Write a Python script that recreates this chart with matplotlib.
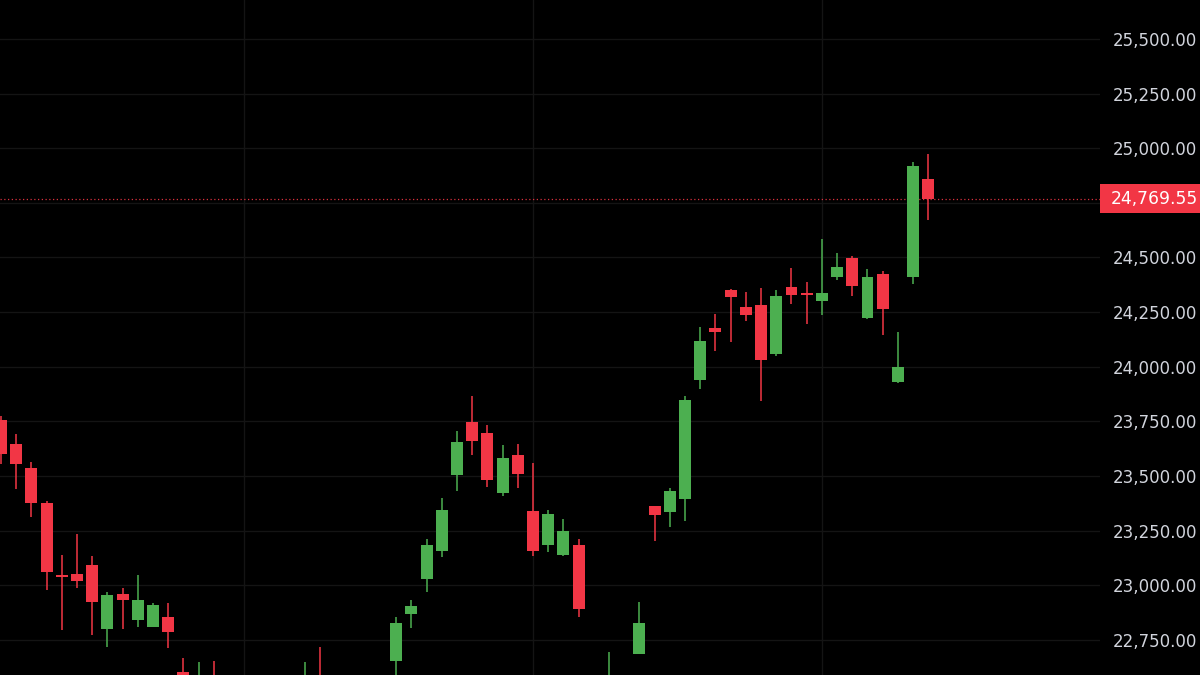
import numpy as np
import matplotlib
matplotlib.use("Agg")
import matplotlib.pyplot as plt
import matplotlib.transforms as mtransforms
from matplotlib.patches import Rectangle

# =============================================================================
# 数据 (candles 13-25, 39-41 sit below the visible range)
# =============================================================================
opens = [23756, 23645, 23538, 23378, 23047, 23051, 23091, 22800, 22961, 22841,
         22810, 22854, 22604, 22480, 22560, 22450, 22420, 22340, 22390, 22450,
         22500, 22560, 22470, 22420, 22480, 22530, 22656, 22867, 23027, 23157,
         23506, 23746, 23695, 23423, 23596, 23340, 23183, 23141, 23187, 22540,
         22480, 22470, 22688, 23362, 23335, 23395, 23938, 24179, 24350, 24273,
         24284, 24057, 24365, 24336, 24301, 24411, 24496, 24224, 24426, 23929,
         24411, 24858]
highs = [23775, 23691, 23564, 23385, 23141, 23233, 23134, 22969, 22986, 23047,
         22920, 22920, 22668, 22649, 22653, 22540, 22500, 22420, 22480, 22560,
         22649, 22717, 22550, 22520, 22570, 22580, 22854, 22935, 23213, 23398,
         23706, 23866, 23732, 23640, 23648, 23561, 23344, 23304, 23210, 22575,
         22696, 22580, 22923, 23363, 23446, 23866, 24182, 24240, 24354, 24342,
         24359, 24350, 24450, 24389, 24583, 24522, 24507, 24446, 24438, 24159,
         24938, 24972]
lows = [23553, 23439, 23314, 22981, 22794, 22989, 22771, 22719, 22801, 22810,
        22809, 22714, 22470, 22430, 22400, 22380, 22300, 22250, 22320, 22400,
        22460, 22440, 22380, 22350, 22420, 22460, 22592, 22806, 22970, 23129,
        23431, 23596, 23449, 23411, 23444, 23134, 23152, 23135, 22856, 22400,
        22440, 22430, 22685, 23202, 23268, 23294, 23897, 24072, 24115, 24209,
        23843, 24049, 24286, 24194, 24235, 24396, 24324, 24217, 24144, 23925,
        24377, 24670]
closes = [23599, 23553, 23375, 23062, 23038, 23022, 22922, 22955, 22935, 22931,
          22911, 22786, 22520, 22570, 22450, 22420, 22340, 22390, 22450, 22500,
          22560, 22470, 22420, 22480, 22530, 22480, 22830, 22906, 23187, 23347,
          23655, 23660, 23480, 23584, 23510, 23157, 23327, 23247, 22894, 22450,
          22575, 22560, 22826, 23320, 23434, 23846, 24118, 24159, 24320, 24235,
          24029, 24324, 24328, 24328, 24339, 24456, 24370, 24411, 24266, 24000,
          24919, 24769.55]

last_price = 24769.55
price_ticks = [22750, 23000, 23250, 23500, 23750, 24000, 24250, 24500, 24750,
               25000, 25250, 25500]
labelled_ticks = [t for t in price_ticks if t != 24750]
vgrid_idx = [16, 35, 54]

UP = '#4caf50'
DOWN = '#f23645'
GRID = '#141414'
TXT = '#d1d4dc'

# =============================================================================
# 绘图
# =============================================================================
fig = plt.figure(figsize=(12, 6.75), dpi=100, facecolor='black')
ax = fig.add_axes([0, 0, 1100 / 1200, 1])
ax.set_facecolor('black')

o = np.array(opens, dtype=float)
h = np.array(highs, dtype=float)
l = np.array(lows, dtype=float)
c = np.array(closes, dtype=float)
x = np.arange(len(o))
colors = np.where(c >= o, UP, DOWN)

ax.vlines(x, l, h, colors=colors, linewidth=1.1, zorder=3)
body_low = np.minimum(o, c)
body_h = np.maximum(np.abs(c - o), 6)
ax.bar(x, body_h, bottom=body_low, width=0.78, color=colors, linewidth=0, zorder=4)

ax.set_xlim(-0.066, 72.3)
ax.set_ylim(22590, 25678)

# grid
for t in price_ticks:
    ax.axhline(t, color=GRID, lw=1, zorder=1)
for i in vgrid_idx:
    ax.axvline(i, color=GRID, lw=1, zorder=1)

# current price line
ax.axhline(last_price, color=DOWN, lw=0.9, ls=(0, (1, 2)), zorder=2, alpha=0.9)

for s in ax.spines.values():
    s.set_visible(False)
ax.set_xticks([])
ax.yaxis.tick_right()
ax.set_yticks(labelled_ticks)
ax.set_yticklabels([f'{t:,.2f}' for t in labelled_ticks])
ax.tick_params(axis='y', length=0, pad=9, labelsize=12, labelcolor=TXT)

# price label box on the axis
trans = mtransforms.blended_transform_factory(fig.transFigure, ax.transData)
box_h = 29 / 0.21855
fig.patches.append(Rectangle((1100 / 1200, last_price - box_h / 2), 100 / 1200, box_h,
                             transform=trans, facecolor=DOWN, edgecolor='none', zorder=5))
fig.text(1111 / 1200, last_price, f'{last_price:,.2f}', transform=trans,
         color='white', fontsize=12.3, va='center', ha='left', zorder=6)

plt.savefig('out.png', facecolor='black')
plt.close()
